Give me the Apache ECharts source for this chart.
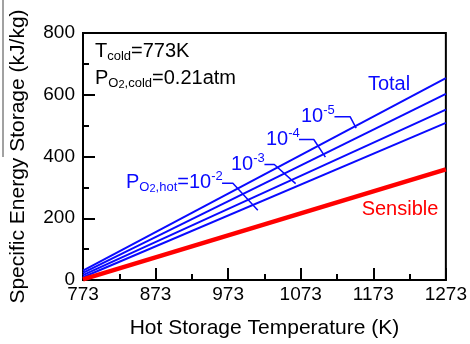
<!DOCTYPE html>
<html>
<head>
<meta charset="utf-8">
<script src="https://cdn.jsdelivr.net/npm/echarts@6/dist/echarts.min.js"></script>
<style>
html,body{margin:0;padding:0;background:#fff;}
#c{width:470px;height:344px;}
</style>
</head>
<body>
<div id="c"></div>
<script>
// ---- data ----
var TEMPS = [773, 1273];                 // Hot storage temperature (K)
var TOTAL_PO2_1E5 = [30, 654];           // kJ/kg
var TOTAL_PO2_1E4 = [23, 603];
var TOTAL_PO2_1E3 = [16, 552];
var TOTAL_PO2_1E2 = [9, 509];
var SENSIBLE = [2, 358];
var X_TICKS = [773, 873, 973, 1073, 1173, 1273];
var Y_TICKS = [0, 200, 400, 600, 800];

var X0 = 773; // axis origin (ticks counted from here)
function pts(xs, ys){ return xs.map(function(x,i){ return [x - X0, ys[i]]; }); }

// leader lines for the annotations (data space)
var LEADERS = [
  [[1119.5,529],[1141,529],[1149.4,492]],
  [[1070.6,455],[1091,455],[1107,398]],
  [[1023,374],[1036.6,374],[1066,312]],
  [[964.6,313],[979.5,313],[1013.9,226]]
];

var BLUE = '#0a0aff', RED = '#ff0000';
var FONT = 'Liberation Sans, Arial, sans-serif';

var chart = echarts.init(document.getElementById('c'), null, {renderer:'canvas'});

var series = [];
[TOTAL_PO2_1E5, TOTAL_PO2_1E4, TOTAL_PO2_1E3, TOTAL_PO2_1E2].forEach(function(s){
  series.push({type:'line', data:pts(TEMPS, s), showSymbol:false, symbol:'none',
    lineStyle:{color:BLUE, width:2}, silent:true, z:3});
});
series.push({type:'line', data:pts(TEMPS, SENSIBLE), showSymbol:false, symbol:'none',
  lineStyle:{color:RED, width:4.5}, silent:true, z:4});
LEADERS.forEach(function(l){
  series.push({type:'line', data:l.map(function(p){return [p[0]-X0, p[1]];}), showSymbol:false, symbol:'none',
    lineStyle:{color:BLUE, width:1.5}, silent:true, z:5});
});

function rt(x, y, text, color, align){
  return {type:'text', x:x, y:y, z:100, silent:true,
    style:{text:text, align:align||'left', verticalAlign:'middle', fill:color,
      font:'20px ' + FONT,
      rich:{
        m:{fontSize:20, fontFamily:FONT, fill:color, lineHeight:24},
        sub:{fontSize:13, fontFamily:FONT, fill:color, lineHeight:8, verticalAlign:'bottom'},
        ssub:{fontSize:11, fontFamily:FONT, fill:color, lineHeight:2, verticalAlign:'bottom'},
        sup:{fontSize:13, fontFamily:FONT, fill:color, lineHeight:12, verticalAlign:'top'}
      }}};
}

chart.setOption({
  animation:false,
  backgroundColor:'#fff',
  textStyle:{fontFamily:FONT},
  grid:{left:81, right:21, top:33, bottom:63, show:true, borderColor:'#000', borderWidth:2, backgroundColor:'transparent'},
  xAxis:{type:'value', min:0, max:TEMPS[1]-X0, interval:100,
    axisLine:{show:true, onZero:false, lineStyle:{color:'#000', width:2}},
    axisTick:{show:true, inside:true, length:12, lineStyle:{color:'#000', width:2}},
    minorTick:{show:true, splitNumber:2, length:6, lineStyle:{color:'#000', width:2}},
    splitLine:{show:false},
    axisLabel:{color:'#000', fontSize:19, fontFamily:FONT, margin:5,
      formatter:function(v){ var t = v + X0; return X_TICKS.indexOf(t) >= 0 ? String(t) : ''; }},
    name:'Hot Storage Temperature (K)', nameLocation:'middle', nameGap:38,
    nameTextStyle:{color:'#000', fontSize:21, fontFamily:FONT}
  },
  yAxis:{type:'value', min:Y_TICKS[0], max:Y_TICKS[Y_TICKS.length-1], interval:200,
    axisLine:{show:true, onZero:false, lineStyle:{color:'#000', width:2}},
    axisTick:{show:true, inside:true, length:12, lineStyle:{color:'#000', width:2}},
    minorTick:{show:true, splitNumber:2, length:6, lineStyle:{color:'#000', width:2}},
    splitLine:{show:false},
    axisLabel:{color:'#000', fontSize:19, fontFamily:FONT, margin:8},
    name:'Specific Energy Storage (kJ/kg)', nameLocation:'middle', nameGap:54,
    nameTextStyle:{color:'#000', fontSize:21, fontFamily:FONT}
  },
  series:series,
  graphic:[
    {type:'line', silent:true, shape:{x1:3, y1:0, x2:3, y2:157}, style:{stroke:'#444', lineWidth:1}},
    rt(95, 51, '{m|T}{sub|cold}{m|=773K}', '#000'),
    rt(95, 78, '{m|P}{sub|O}{ssub|2}{sub|,cold}{m|=0.21atm}', '#000'),
    rt(389, 84, '{m|Total}', BLUE, 'center'),
    rt(301, 116, '{m|10}{sup|-5}', BLUE),
    rt(266, 139, '{m|10}{sup|-4}', BLUE),
    rt(231, 164, '{m|10}{sup|-3}', BLUE),
    rt(126, 182, '{m|P}{sub|O}{ssub|2}{sub|,hot}{m|=10}{sup|-2}', BLUE),
    rt(400, 209, '{m|Sensible}', RED, 'center')
  ]
});
</script>
</body>
</html>
